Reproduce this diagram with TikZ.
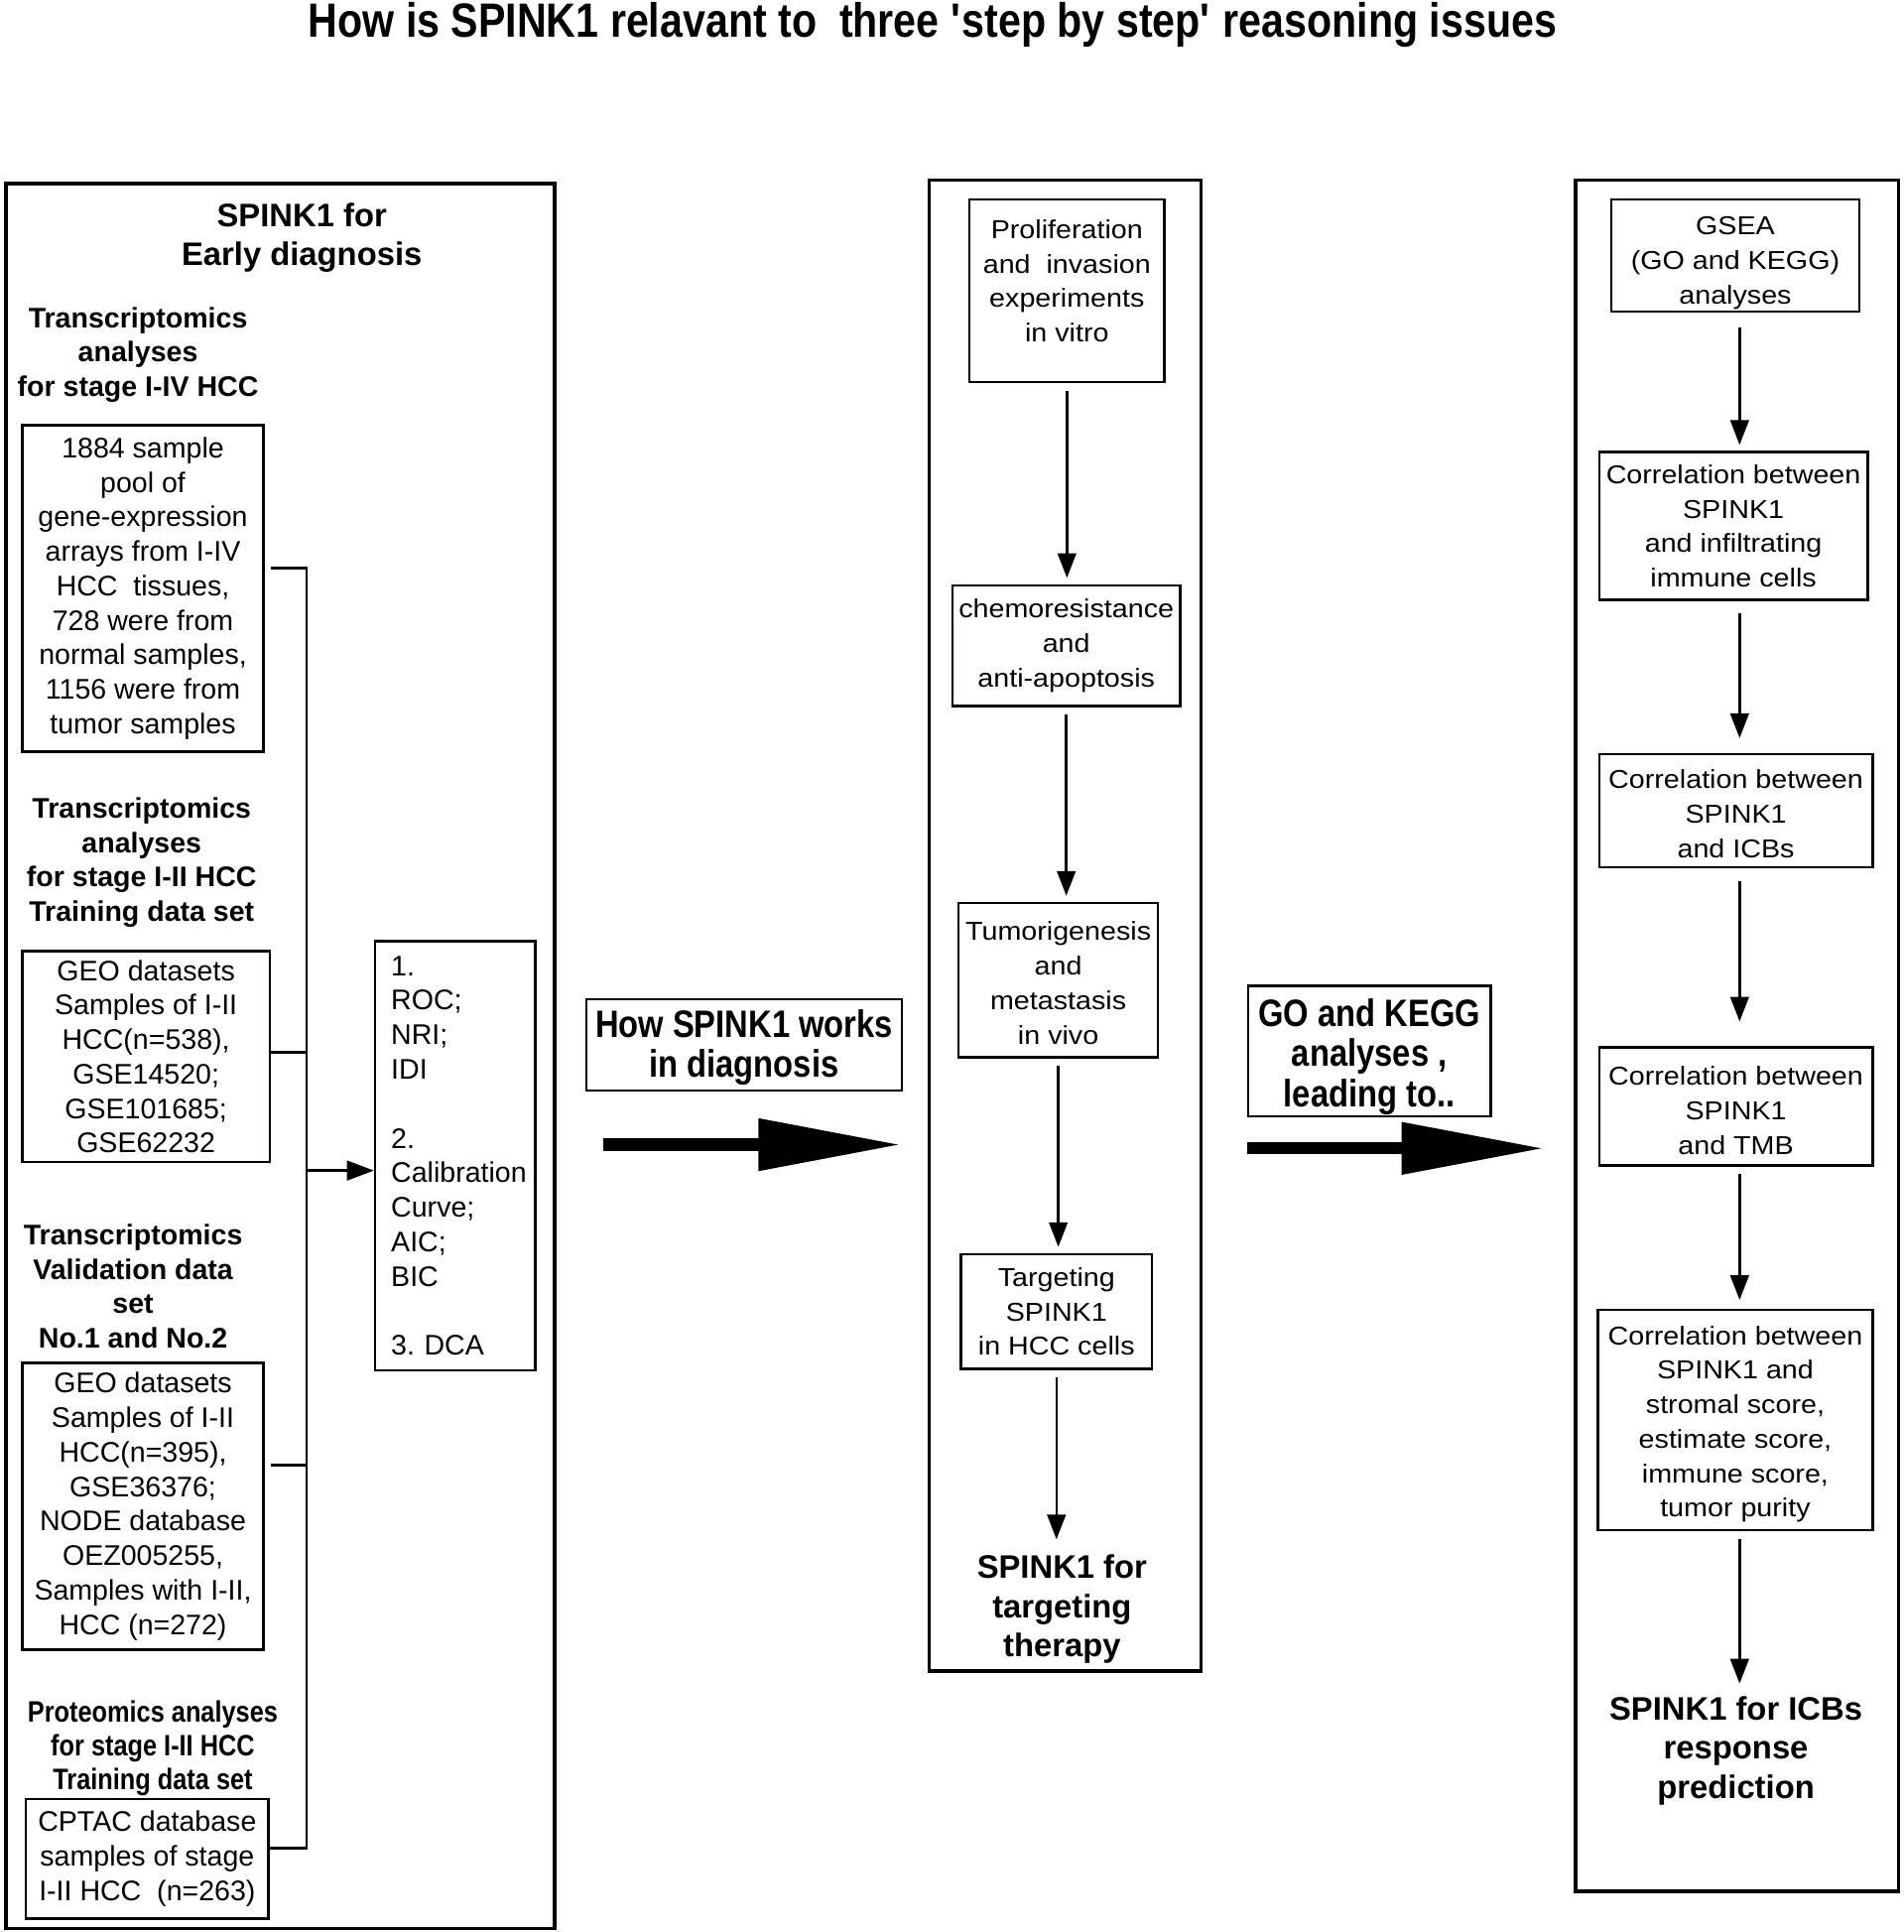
\documentclass[tikz,border=0pt]{standalone}
\usepackage{fontspec}
\setmainfont{Liberation Sans}
\newfontfamily\wideFont[FakeStretch=1.1]{Liberation Sans}
\newfontfamily\narrowFont[FakeStretch=0.85]{Liberation Sans}
\usetikzlibrary{arrows.meta}
\frenchspacing

\begin{document}
\begin{tikzpicture}[x=0.5pt, y=-0.5pt]

          \tikzstyle{panel} = [draw, line width=1.4pt, inner sep=0pt];
          \tikzstyle{dataBox} = [draw, line width=1pt, inner sep=0pt, align=center, font=\fontsize{11.5}{14}\selectfont];
          \tikzstyle{stepBox} = [draw, line width=1pt, inner sep=0pt, align=center, font=\wideFont\fontsize{10.5}{14}\selectfont];
          \tikzstyle{bigLabel} = [draw, line width=1pt, inner sep=0pt, align=center, font=\narrowFont\bfseries\fontsize{15.5}{16.2}\selectfont];
          \tikzstyle{headText} = [align=center, inner sep=0pt, font=\bfseries\fontsize{11.5}{14}\selectfont];
          \tikzstyle{goalText} = [align=center, inner sep=0pt, font=\bfseries\fontsize{13.2}{16}\selectfont];
          \tikzstyle{titleText} = [inner sep=0pt, font=\narrowFont\bfseries\fontsize{19.5}{22}\selectfont];

          \tikzstyle{busEdge} = [line width=1pt];
          \tikzstyle{stepEdge} = [line width=1pt, -{Triangle[length=10pt,width=7.5pt]}, shorten <=3pt, shorten >=2.5pt];
          \tikzstyle{bigArrow} = [line width=5pt, -{Triangle[length=58pt,width=20pt]}];

          \useasboundingbox (0,0) rectangle (1545,1568);

          \node[titleText, anchor=base] (title) at (757,30) {How is SPINK1 relavant to \ three \textquotesingle step by step\textquotesingle\ reasoning issues};

          % left panel: early diagnosis
          \node[panel, minimum width=222.5pt, minimum height=708pt] (leftPanel) at (227.5,857) {};
          \node[goalText] (early) at (245,193) {SPINK1 for\\Early diagnosis};
          \node[headText] (headA) at (112,288) {Transcriptomics\\analyses\\for stage I-IV HCC};
          \node[dataBox, minimum width=98pt, minimum height=132.5pt] (pool) at (116,477.5) {1884 sample\\pool of\\gene-expression\\arrays from I-IV\\HCC\ \ tissues,\\728 were from\\normal samples,\\1156 were from\\tumor samples};
          \node[headText] (headB) at (115,700) {Transcriptomics\\analyses\\for stage I-II HCC\\Training data set};
          \node[dataBox, minimum width=100.5pt, minimum height=85.5pt] (geoTrain) at (118.5,857.5) {GEO datasets\\Samples of I-II\\HCC(n=538),\\GSE14520;\\GSE101685;\\GSE62232};
          \node[headText] (headC) at (108,1044) {Transcriptomics\\Validation data\\set\\No.1 and No.2};
          \node[dataBox, minimum width=98pt, minimum height=116.5pt] (geoValid) at (116,1222.5) {GEO datasets\\Samples of I-II\\HCC(n=395),\\GSE36376;\\NODE database\\OEZ005255,\\Samples with I-II,\\HCC (n=272)};
          \node[headText, font=\narrowFont\bfseries\fontsize{12}{13.75}\selectfont] (headD) at (124,1419) {Proteomics analyses\\for stage I-II HCC\\Training data set};
          \node[dataBox, minimum width=98.5pt, minimum height=48.5pt] (cptac) at (119.5,1508.5) {CPTAC database\\samples of stage\\I-II HCC\ \ (n=263)};
          \node[dataBox, align=left, text width=52pt, inner xsep=6.5pt, minimum height=174pt] (metrics) at (369.5,938) {1.\\ROC;\\NRI;\\IDI\\[14pt]2.\\Calibration\\Curve;\\AIC;\\BIC\\[14pt]3. DCA};

          \coordinate (busTop) at (249,461);
          \coordinate (busTrain) at (249,854);
          \coordinate (busOut) at (249,950);
          \coordinate (busValid) at (249,1189);
          \coordinate (busBot) at (249,1500);

          \draw[busEdge] ([xshift=2.5pt]pool.east |- busTop) -- (busTop) -- (busBot) -- (cptac.east |- busBot);
          \draw[busEdge] (geoTrain.east |- busTrain) -- (busTrain);
          \draw[busEdge] ([xshift=2.5pt]geoValid.east |- busValid) -- (busValid);
          \draw[line width=1pt, -{Triangle[length=11pt,width=8pt]}] (busOut) -- (metrics.west |- busOut);

          % middle panel: targeting therapy
          \node[bigLabel, minimum width=128pt, minimum height=37pt] (howBox) at (604,848) {\rule{0pt}{13.5pt}How SPINK1 works\\in diagnosis};
          \node[panel, minimum width=110.5pt, minimum height=605pt] (midPanel) at (864.5,751) {};
          \node[stepBox, minimum width=79pt, minimum height=74pt, text depth=8pt] (prolif) at (866,236) {Proliferation\\and\ \ invasion\\experiments\\in vitro};
          \node[stepBox, minimum width=92.5pt, minimum height=49pt] (chemo) at (865.5,524) {chemoresistance\\and\\anti-apoptosis};
          \node[stepBox, minimum width=81pt, minimum height=62.5pt] (tumor) at (859,795.5) {\rule{0pt}{10pt}Tumorigenesis\\and\\metastasis\\in vivo};
          \node[stepBox, minimum width=77.5pt, minimum height=46.5pt] (target) at (857.5,1064.5) {Targeting\\SPINK1\\in HCC cells};
          \node[goalText] (therapy) at (862,1306) {SPINK1 for\\targeting\\therapy};

          \draw[stepEdge] (prolif.south) -- (prolif.south |- chemo.north);
          \draw[stepEdge] (chemo.south) -- (chemo.south |- tumor.north);
          \draw[stepEdge] (tumor.south) -- (tumor.south |- target.north);
          \draw[stepEdge, shorten >=6pt] (target.south) -- (target.south |- therapy.north);

          \coordinate (arrowA) at (490,929);
          \draw[bigArrow] (arrowA) -- ([xshift=-10.5pt]arrowA -| midPanel.west);

          % right panel: ICBs response
          \node[bigLabel, minimum width=98.5pt, minimum height=53pt] (goBox) at (1111.5,853) {\rule{0pt}{16pt}GO and KEGG\\analyses ,\\leading to..};
          \node[panel, minimum width=131pt, minimum height=694.5pt] (rightPanel) at (1410,840.5) {};
          \node[stepBox, minimum width=100.5pt, minimum height=45.5pt] (gsea) at (1408.5,207.5) {\rule{0pt}{13.5pt}GSEA\\(GO and KEGG)\\analyses};
          \node[stepBox, minimum width=109pt, minimum height=60pt] (immune) at (1407,427) {Correlation between\\SPINK1\\and infiltrating\\immune cells};
          \node[stepBox, minimum width=111pt, minimum height=46pt] (icb) at (1409,658) {\rule{0pt}{10pt}Correlation between\\SPINK1\\and ICBs};
          \node[stepBox, minimum width=111pt, minimum height=48pt] (tmb) at (1409,898) {\rule{0pt}{11pt}Correlation between\\SPINK1\\and TMB};
          \node[stepBox, minimum width=111.5pt, minimum height=89.5pt] (score) at (1408.5,1152.5) {\rule{0pt}{11pt}Correlation between\\SPINK1 and\\stromal score,\\estimate score,\\immune score,\\tumor purity};
          \node[goalText] (predict) at (1409,1421) {SPINK1 for ICBs\\response\\prediction};

          \coordinate (rightAxis) at (1412,0);
          \draw[stepEdge, shorten <=6pt] (gsea.south -| rightAxis) -- (immune.north -| rightAxis);
          \draw[stepEdge, shorten <=5pt, shorten >=6pt] (immune.south -| rightAxis) -- (icb.north -| rightAxis);
          \draw[stepEdge, shorten <=5pt, shorten >=10pt] (icb.south -| rightAxis) -- (tmb.north -| rightAxis);
          \draw[stepEdge, shorten >=3.5pt] (tmb.south -| rightAxis) -- (score.north -| rightAxis);
          \draw[stepEdge, shorten >=5pt] (score.south -| rightAxis) -- (predict.north -| rightAxis);

          \coordinate (arrowB) at (1012,932);
          \draw[bigArrow] (arrowB) -- ([xshift=-12pt]arrowB -| rightPanel.west);
        \end{tikzpicture}
\end{document}
